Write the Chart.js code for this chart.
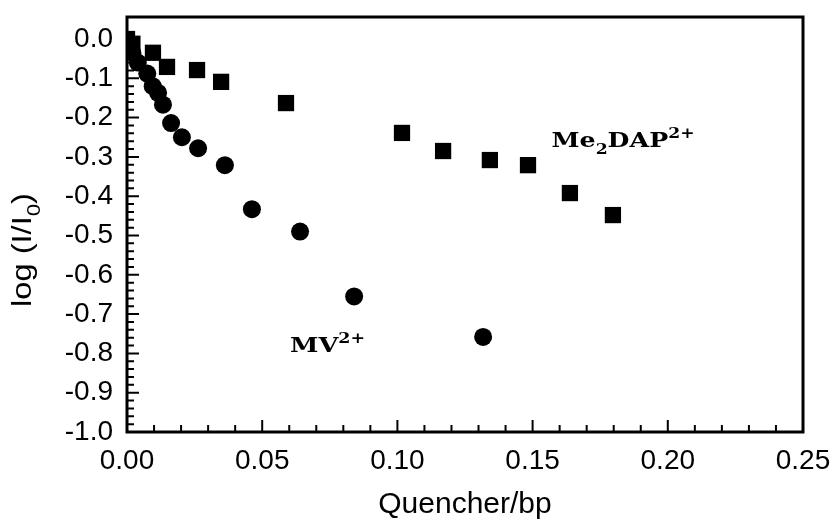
<!DOCTYPE html>
<html>
<head>
<meta charset="utf-8">
<script src="https://cdn.jsdelivr.net/npm/chart.js@4.4.0/dist/chart.umd.min.js"></script>
<style>
html, body { margin: 0; padding: 0; background: #fff; }
#wrap { width: 832px; height: 520px; }
</style>
</head>
<body>
<div id="wrap"><canvas id="chart"></canvas></div>
<script>
// MV2+ (circles)
var mvX = [0.001, 0.002, 0.004, 0.0075, 0.0095, 0.0115, 0.0133, 0.0163, 0.0203, 0.0263, 0.0362, 0.0462, 0.064, 0.084, 0.1317];
var mvY = [-0.015, -0.035, -0.06, -0.088, -0.12, -0.137, -0.167, -0.214, -0.25, -0.278, -0.321, -0.433, -0.49, -0.655, -0.758];

// Me2DAP2+ (squares)
var meX = [0.0, 0.002, 0.0096, 0.0148, 0.0259, 0.0348, 0.0588, 0.1017, 0.1169, 0.1342, 0.1483, 0.1638, 0.1797];
var meY = [0.0, -0.012, -0.035, -0.071, -0.079, -0.109, -0.163, -0.239, -0.285, -0.308, -0.321, -0.392, -0.448];

var xTicks = [0, 0.05, 0.10, 0.15, 0.20, 0.25];
var xTickLabels = ['0.00', '0.05', '0.10', '0.15', '0.20', '0.25'];
var yTicks = [0.0, -0.1, -0.2, -0.3, -0.4, -0.5, -0.6, -0.7, -0.8, -0.9, -1.0];
var yTickLabels = ['0.0', '-0.1', '-0.2', '-0.3', '-0.4', '-0.5', '-0.6', '-0.7', '-0.8', '-0.9', '-1.0'];

function toPoints(xs, ys) {
	var pts = [];
	for (var i = 0; i < xs.length; i++) {
		pts.push({ x: xs[i], y: ys[i] });
	}
	return pts;
}

// draws text made of normal / sub / sup parts, squeezed or stretched to a width
function drawRich(ctx, parts, x, y, width, size, family, weight, rot) {
	ctx.save();
	ctx.translate(x, y);
	if (rot) ctx.rotate(rot);
	var total = 0, widths = [];
	parts.forEach(function (p) {
		var fs = p[1] === 'n' ? size : size * 0.68;
		ctx.font = weight + ' ' + fs + 'px ' + family;
		var w = ctx.measureText(p[0]).width;
		widths.push(w);
		total += w;
	});
	ctx.scale(width / total, 1);
	ctx.fillStyle = '#000';
	ctx.textBaseline = 'alphabetic';
	ctx.textAlign = 'left';
	var cx = 0;
	parts.forEach(function (p, i) {
		var fs = p[1] === 'n' ? size : size * 0.68;
		var dy = p[1] === 'sub' ? size * 0.32 : (p[1] === 'sup' ? -size * 0.42 : 0);
		ctx.font = weight + ' ' + fs + 'px ' + family;
		ctx.fillText(p[0], cx, dy);
		cx += widths[i];
	});
	ctx.restore();
}

var framePlugin = {
	id: 'frame',
	afterDatasetsDraw: function (chart) {
		var ctx = chart.ctx,
			a = chart.chartArea,
			xs = chart.scales.x,
			ys = chart.scales.y,
			len, i;
		ctx.save();
		ctx.strokeStyle = '#000';
		ctx.lineWidth = 3;
		ctx.strokeRect(a.left, a.top, a.right - a.left, a.bottom - a.top);

		// inward ticks on bottom and left
		ctx.lineWidth = 2;
		ctx.beginPath();
		for (i = 0; i <= 25; i++) {
			var px = xs.getPixelForValue(i * 0.01);
			len = i % 5 === 0 ? 12 : 7;
			ctx.moveTo(px, a.bottom);
			ctx.lineTo(px, a.bottom - len);
		}
		for (i = 0; i <= 50; i++) {
			var py = ys.getPixelForValue(-i * 0.02);
			len = i % 5 === 0 ? 12 : 7;
			ctx.moveTo(a.left, py);
			ctx.lineTo(a.left + len, py);
		}
		ctx.stroke();
		ctx.restore();

		// series labels
		var serif = '"DejaVu Serif"';
		drawRich(ctx, [['Me', 'n'], ['2', 'sub'], ['DAP', 'n'], ['2+', 'sup']],
			xs.getPixelForValue(0.157), ys.getPixelForValue(-0.275), 143, 21, serif, 'bold');
		drawRich(ctx, [['MV', 'n'], ['2+', 'sup']],
			xs.getPixelForValue(0.0603), ys.getPixelForValue(-0.796), 75, 21, serif, 'bold');

		// y axis title with subscript
		drawRich(ctx, [['log (I/I', 'n'], ['0', 'sub'], [')', 'n']],
			31, 307, 114, 28, '"Liberation Sans"', 'normal', -Math.PI / 2);
	}
};

var ctx = document.getElementById('chart').getContext('2d');
var myChart = new Chart(ctx, {
	type: 'scatter',
	data: {
		datasets: [
			{
				label: 'MV2+',
				data: toPoints(mvX, mvY),
				pointStyle: 'circle',
				pointRadius: 9,
				backgroundColor: '#000',
				borderColor: '#000',
				borderWidth: 0
			},
			{
				label: 'Me2DAP2+',
				data: toPoints(meX, meY),
				pointStyle: 'rect',
				pointRadius: 11.5,
				backgroundColor: '#000',
				borderColor: '#000',
				borderWidth: 0
			}
		]
	},
	plugins: [framePlugin],
	options: {
		responsive: true,
		maintainAspectRatio: false,
		animation: false,
		layout: { padding: { left: 0, right: 29, top: 17, bottom: 0 } },
		plugins: {
			legend: { display: false },
			tooltip: { enabled: false }
		},
		scales: {
			x: {
				type: 'linear',
				min: 0,
				max: 0.25,
				grid: { display: false, drawTicks: false },
				border: { display: false },
				afterBuildTicks: function (scale) {
					scale.ticks = xTicks.map(function (v) { return { value: v }; });
				},
				afterFit: function (scale) {
					scale.height = 88;
					scale.paddingLeft = 0;
					scale.paddingRight = 0;
				},
				ticks: {
					color: '#000',
					padding: 12,
					maxRotation: 0,
					font: { family: 'Liberation Sans', size: 28 },
					callback: function (v, i) { return xTickLabels[i]; }
				},
				title: {
					display: true,
					text: 'Quencher/bp',
					color: '#000',
					padding: { top: 0, bottom: 0 },
					font: { family: 'Liberation Sans', size: 30, lineHeight: 1 }
				}
			},
			y: {
				type: 'linear',
				min: -1.0,
				max: 0.056,
				grid: { display: false, drawTicks: false },
				border: { display: false },
				afterBuildTicks: function (scale) {
					scale.ticks = yTicks.map(function (v) { return { value: v }; });
				},
				afterFit: function (scale) {
					scale.width = 127;
					scale.paddingTop = 0;
					scale.paddingBottom = 0;
				},
				ticks: {
					color: '#000',
					padding: 14,
					font: { family: 'Liberation Sans', size: 28 },
					callback: function (v, i) { return yTickLabels[i]; }
				}
			}
		}
	}
});
</script>
</body>
</html>
